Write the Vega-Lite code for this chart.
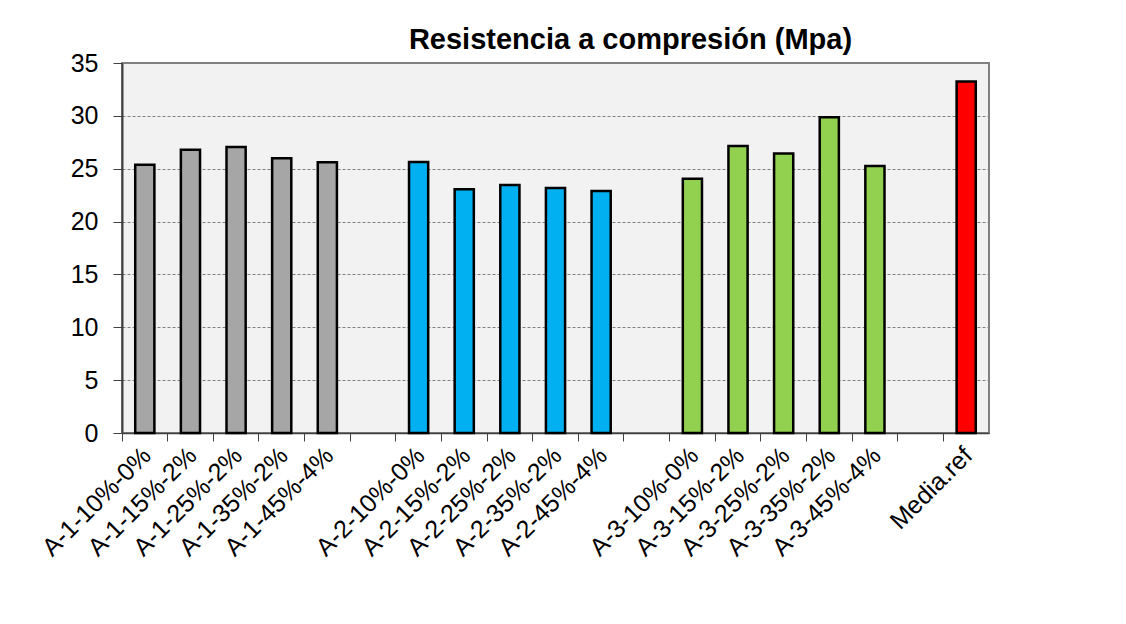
{
  "$schema": "https://vega.github.io/schema/vega-lite/v6.json",
  "width": 867,
  "height": 370,
  "autosize": {"type": "none"},
  "padding": {"left": 122, "top": 63, "right": 137, "bottom": 191},
  "background": "white",
  "title": {
    "text": "Resistencia a compresión (Mpa)",
    "font": "Liberation Sans",
    "fontSize": 29,
    "fontWeight": "bold",
    "color": "black",
    "anchor": "middle",
    "dx": 75,
    "offset": -4
  },
  "data": {
    "values": [
      {"muestra": "A-1-10%-0%", "grupo": "A-1", "resistencia": 25.38},
      {"muestra": "A-1-15%-2%", "grupo": "A-1", "resistencia": 26.8},
      {"muestra": "A-1-25%-2%", "grupo": "A-1", "resistencia": 27.06},
      {"muestra": "A-1-35%-2%", "grupo": "A-1", "resistencia": 25.98},
      {"muestra": "A-1-45%-4%", "grupo": "A-1", "resistencia": 25.6},
      {"muestra": "A-2-10%-0%", "grupo": "A-2", "resistencia": 25.64},
      {"muestra": "A-2-15%-2%", "grupo": "A-2", "resistencia": 23.05},
      {"muestra": "A-2-25%-2%", "grupo": "A-2", "resistencia": 23.46},
      {"muestra": "A-2-35%-2%", "grupo": "A-2", "resistencia": 23.18},
      {"muestra": "A-2-45%-4%", "grupo": "A-2", "resistencia": 22.9},
      {"muestra": "A-3-10%-0%", "grupo": "A-3", "resistencia": 24.06},
      {"muestra": "A-3-15%-2%", "grupo": "A-3", "resistencia": 27.15},
      {"muestra": "A-3-25%-2%", "grupo": "A-3", "resistencia": 26.45},
      {"muestra": "A-3-35%-2%", "grupo": "A-3", "resistencia": 29.86},
      {"muestra": "A-3-45%-4%", "grupo": "A-3", "resistencia": 25.26},
      {"muestra": "Media.ref", "grupo": "ref", "resistencia": 33.26}
    ]
  },
  "mark": {"type": "bar", "width": {"band": 0.42}, "stroke": "black", "strokeWidth": 2.5},
  "encoding": {
    "x": {
      "field": "muestra",
      "type": "nominal",
      "sort": null,
      "scale": {
        "domain": ["A-1-10%-0%", "A-1-15%-2%", "A-1-25%-2%", "A-1-35%-2%", "A-1-45%-4%", "gap1",
                   "A-2-10%-0%", "A-2-15%-2%", "A-2-25%-2%", "A-2-35%-2%", "A-2-45%-4%", "gap2",
                   "A-3-10%-0%", "A-3-15%-2%", "A-3-25%-2%", "A-3-35%-2%", "A-3-45%-4%", "gap3",
                   "Media.ref"],
        "paddingInner": 0,
        "paddingOuter": 0
      },
      "axis": {
        "title": null,
        "bandPosition": 0,
        "labelOffset": 2,
        "labelExpr": "indexof(datum.label, 'gap') == 0 ? '' : datum.label",
        "labelAngle": -45,
        "labelAlign": "right",
        "labelBaseline": "middle",
        "labelFont": "Liberation Sans",
        "labelFontSize": 25,
        "labelColor": "black",
        "labelPadding": 10,
        "tickSize": 8,
        "tickColor": "#404040",
        "tickWidth": 1,
        "domainColor": "#404040",
        "domainWidth": 1.5,
        "grid": false
      }
    },
    "y": {
      "field": "resistencia",
      "type": "quantitative",
      "scale": {"domain": [0, 35], "nice": false},
      "axis": {
        "title": null,
        "values": [0, 5, 10, 15, 20, 25, 30, 35],
        "labelFont": "Liberation Sans",
        "labelFontSize": 25,
        "labelColor": "black",
        "labelPadding": 15,
        "tickSize": 9,
        "tickColor": "#404040",
        "domainColor": "#404040",
        "domainWidth": 2,
        "grid": true,
        "gridColor": "#808080",
        "gridDash": [3, 2],
        "gridWidth": 1
      }
    },
    "color": {
      "field": "grupo",
      "type": "nominal",
      "scale": {"domain": ["A-1", "A-2", "A-3", "ref"], "range": ["#A6A6A6", "#00B0F0", "#92D050", "#FF0000"]},
      "legend": null
    }
  },
  "config": {
    "view": {"fill": "#F2F2F2", "stroke": "#808080", "strokeWidth": 2}
  }
}
